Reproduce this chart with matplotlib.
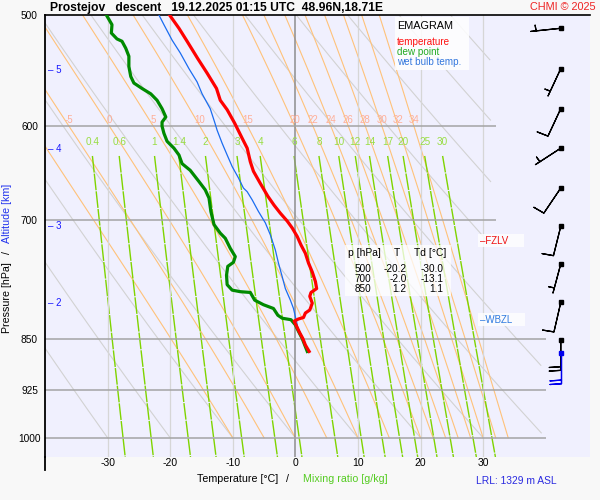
import numpy as np
import matplotlib.pyplot as plt
from matplotlib.lines import Line2D
from matplotlib.patches import Rectangle

plt.rcParams['font.family'] = ['Liberation Sans', 'DejaVu Sans']
plt.rcParams['axes.unicode_minus'] = False

# sounding (p in hPa, T in degC)
temp_p = [500, 511, 522, 537, 550, 564, 575, 584, 597, 612, 622, 636, 646, 659, 673, 683, 692,
          701, 709, 719, 729, 739, 751, 762, 774, 783, 788, 793, 802, 811, 815, 821, 823, 826,
          833, 842, 850, 859, 868]
temp_t = [-20.1, -18.6, -17.3, -15.6, -14.1, -12.6, -12.0, -10.9, -9.7, -8.5, -7.7, -7.2, -6.7,
          -5.6, -4.4, -3.4, -2.4, -1.3, -0.5, 0.3, 0.9, 1.6, 2.1, 2.7, 3.2, 3.4, 2.5, 2.3, 2.7,
          2.3, 1.6, 1.3, 0.5, -0.2, 0.2, 0.7, 1.2, 1.6, 2.2]

dew_p = [500, 508, 515, 520, 522, 528, 535, 544, 553, 559, 564, 569, 575, 583, 591, 596, 600,
         607, 615, 622, 629, 638, 645, 657, 666, 675, 690, 705, 715, 721, 733, 743, 750, 755,
         766, 778, 785, 787, 788, 798, 804, 809, 818, 822, 824, 831, 840, 850, 859, 868]
dew_t = [-30.2, -29.3, -29.4, -28.5, -27.7, -27.1, -26.6, -26.6, -26.3, -25.8, -24.5, -23.1,
         -22.1, -21.3, -20.7, -21.3, -21.3, -21.0, -20.5, -19.4, -18.6, -18.1, -16.8, -15.4,
         -14.4, -13.8, -13.5, -13.0, -12.0, -11.2, -10.4, -9.6, -9.9, -10.8, -11.0, -10.9,
         -10.1, -8.8, -7.2, -6.5, -5.1, -3.5, -2.8, -2.1, -0.7, 0.0, 0.5, 1.1, 1.5, 1.9]

wb_p = [500, 508, 521, 532, 546, 558, 569, 583, 596, 604, 617, 629, 641, 653, 664, 668, 677,
        690, 703, 717, 735, 751, 768, 783, 798, 809, 820, 827, 840, 850, 859, 868]
wb_t = [-21.8, -21.0, -19.7, -18.4, -17.0, -15.7, -14.9, -13.6, -12.9, -12.5, -11.7, -10.9,
        -10.1, -9.1, -8.3, -7.7, -6.9, -5.9, -4.8, -4.0, -3.2, -2.7, -2.1, -1.6, -0.8, -0.3,
        0.0, 0.2, 0.5, 1.1, 1.5, 2.0]

# summary table
table_p = [500, 700, 850]
table_t = [-20.2, -2.0, 1.2]
table_td = [-30.0, -13.1, 1.1]

# wind profile (direction deg, speed kt)
wind_p = [511, 546, 583, 622, 664, 707, 752, 801, 852]
wind_dir = [264, 205, 205, 237, 214, 194, 195, 193, 180]
wind_spd = [5, 5, 10, 5, 10, 10, 5, 10, 20]
sfc_p, sfc_dir, sfc_spd = 870, 180, 20

alt_km = [2, 3, 4, 5]
alt_p = [802, 707, 623, 547]

fzlv_p = 724
wbzl_p = 824
lrl_m = 1329

# diagram background lines
isobars = [600, 700, 850, 925, 1000]
isotherms = [-30, -20, -10, 0, 10, 20, 30]
theta_lines = [-30, -20, -10, 0, 10, 20, 30, 40, 50, 60, 70, 80, 90]
thetaw_lines = [-10, -5, 0, 5, 10, 15, 20, 22, 24, 26, 28, 30, 32, 34]
mix_lines = [0.4, 0.6, 1, 1.4, 2, 3, 4, 6, 8, 10, 12, 14, 17, 20, 25, 30]

RD, CP, LV, EPS = 287.04, 1005.7, 2.501e6, 0.622


def sat_vap(tk):
    return 6.112 * np.exp(17.67 * (tk - 273.15) / (tk - 29.65))


def moist_dtdp(tk, p):
    es = sat_vap(tk)
    rs = EPS * es / (p - es)
    return (RD * tk + LV * rs) / (CP + LV ** 2 * rs * EPS / (RD * tk ** 2)) / p


def moist_adiabats(tw_c, p):
    t = np.asarray(tw_c, float) + 273.15
    out = [t]
    for p0, p1 in zip(p[:-1], p[1:]):
        dp = p1 - p0
        k1 = moist_dtdp(t, p0)
        k2 = moist_dtdp(t + 0.5 * dp * k1, p0 + 0.5 * dp)
        k3 = moist_dtdp(t + 0.5 * dp * k2, p0 + 0.5 * dp)
        k4 = moist_dtdp(t + dp * k3, p1)
        t = t + dp * (k1 + 2 * k2 + 2 * k3 + k4) / 6
        out.append(t)
    return np.array(out) - 273.15


def mixing_temp(w, p):
    e = w * p / (1000 * EPS + w)
    a = np.log(e / 6.112)
    return 243.5 * a / (17.67 - a)


W, H = 600, 500
fig = plt.figure(figsize=(6, 5), dpi=100, facecolor='#f8f8f8')


def fx(x):
    return x / W


def fy(y):
    return 1 - y / H


ax = fig.add_axes([fx(45), fy(457), 545 / W, 442 / H])
ax.set_facecolor('#f0f0fe')
ax.set_yscale('log')
ax.set_xlim(-40, 47.07)
ax.set_ylim(1032, 500)

pgrid = np.linspace(1000, 500, 501)

# dry adiabats
tmax = np.where(pgrid < 800, 31.2, 39.3)
for th in theta_lines:
    t = (th + 273.15) * (pgrid / 1000) ** 0.2857 - 273.15
    t = np.where(t <= tmax, t, np.nan)
    ax.plot(t, pgrid, color='#d2d2d2', lw=0.8, zorder=1)

# saturated adiabats
ma = moist_adiabats(thetaw_lines, pgrid)
for i, tw in enumerate(thetaw_lines):
    ax.plot(ma[:, i], pgrid, color='#ffc27a', lw=0.8, zorder=1)
    t600 = np.interp(600, pgrid[::-1], ma[::-1, i])
    if t600 > -38:
        ax.text(t600, 594, '%g' % tw, color='#ffaf98', fontsize=7, ha='center',
                va='center', zorder=3)

# mixing ratio lines
pm = np.linspace(630, 1032, 120)
for w in mix_lines:
    ax.plot(mixing_temp(w, pm), pm, color='#7fd400', lw=1.0, dashes=(12, 0.8), zorder=1.2)
    ax.text(mixing_temp(w, 630), 616, '%g' % w, color='#99dd44', fontsize=7.2,
            ha='center', va='center', zorder=3)

for t in isotherms:
    if t == 0:
        ax.axvline(t, color='#8e8e8e', lw=1.1, zorder=1.5)
    else:
        ax.axvline(t, color='#d6d6d6', lw=0.9, zorder=1.5)

for p in isobars:
    ax.hlines(p, -40, 32 if p < 800 else 40, color='#a4a4a4', lw=1.1, zorder=2)

# profiles
ax.plot(wb_t, wb_p, color='#1a6cf0', lw=0.9, zorder=4)
ax.plot(dew_t, dew_p, color='#008a00', lw=2.3, zorder=5)
ax.plot(temp_t, temp_p, color='#ff0000', lw=2.3, zorder=6)

# wind barbs
barb_sizes = dict(width=0.05, spacing=0.12, height=0.38)
spd = np.array(wind_spd, float)
wd = np.radians(wind_dir)
bx = np.full(len(wind_p), 42.4)
ax.barbs(bx, wind_p, -spd * np.sin(wd), -spd * np.cos(wd), length=6.6, pivot='tip',
         sizes=barb_sizes, color='black', linewidth=0.9, zorder=7, clip_on=False)
ax.plot(bx, wind_p, 's', color='black', ms=2.5, zorder=8, clip_on=False)
sd = np.radians(sfc_dir)
ax.barbs([42.4], [sfc_p], [-sfc_spd * np.sin(sd)], [-sfc_spd * np.cos(sd)], length=6.6,
         pivot='tip', sizes=barb_sizes, color='#0000ee', linewidth=0.9, zorder=7,
         clip_on=False)
ax.plot([42.4], [sfc_p], 's', color='#0000ee', ms=2.5, zorder=8, clip_on=False)

# altitude marks
ytr = ax.get_yaxis_transform()
for km, p in zip(alt_km, alt_p):
    ax.text(0.0055, p, '\u2013 %d' % km, transform=ytr, color='#1a1aff', fontsize=7,
            ha='left', va='center', zorder=8)

ax.text((480 - 45) / 545, fzlv_p, '\u2013FZLV     ', transform=ytr, color='#ee1111',
        fontsize=7, ha='left', va='center', zorder=8,
        bbox=dict(fc='white', ec='none', alpha=0.8, pad=1.2))
ax.text((480 - 45) / 545, wbzl_p, '\u2013WBZL    ', transform=ytr, color='#2f7be0',
        fontsize=7, ha='left', va='center', zorder=8,
        bbox=dict(fc='white', ec='none', alpha=0.8, pad=1.2))

# spines and ticks
for side in ['right', 'bottom']:
    ax.spines[side].set_visible(False)
ax.spines['left'].set_linewidth(1.3)
ax.spines['top'].set_linewidth(1.2)
fig.add_artist(Line2D([fx(45), fx(45)], [fy(457), fy(470)], color='black', lw=1.3,
                      transform=fig.transFigure))

ax.minorticks_off()
ax.set_yticks([500] + isobars)
ax.set_yticklabels([str(p) for p in [500] + isobars])
ax.set_xticks(isotherms)
ax.set_xticklabels(['%d' % t for t in isotherms])
ax.tick_params(axis='y', length=0, pad=11.2, labelsize=7.3)
ax.tick_params(axis='x', length=0, pad=1.0, labelsize=7.5)
for lab in ax.get_yticklabels():
    lab.set_horizontalalignment('center')

# legend box
fig.add_artist(Rectangle((fx(395), fy(70)), 74 / W, 53 / H, transform=fig.transFigure,
                         fc='white', ec='none', alpha=0.85, zorder=2))
fig.text(fx(397), fy(26), 'EMAGRAM', fontsize=7.8, va='center', zorder=3)
fig.text(fx(397), fy(42), 'temperature', fontsize=7.1, color='#ff1010', va='center', zorder=3)
fig.text(fx(397), fy(52), 'dew point', fontsize=7.1, color='#22aa22', va='center', zorder=3)
fig.text(fx(397), fy(62), 'wet bulb temp.', fontsize=7.1, color='#3377dd', va='center',
         zorder=3)

# table
fig.add_artist(Rectangle((fx(345), fy(296)), 106 / W, 51 / H, transform=fig.transFigure,
                         fc='white', ec='none', alpha=0.75, zorder=2))
fig.text(fx(348), fy(253.5), 'p [hPa]', fontsize=7.4, va='center', zorder=3)
fig.text(fx(397), fy(253.5), 'T', fontsize=7.4, va='center', ha='center', zorder=3)
fig.text(fx(413.5), fy(253.5), 'Td [\u00b0C]', fontsize=7.4, va='center', zorder=3)
for k, (p, t, td) in enumerate(zip(table_p, table_t, table_td)):
    yy = 268.5 + k * 10.1
    fig.text(fx(371.7), fy(yy), '%d' % p, fontsize=7.2, va='center', ha='right', zorder=3)
    fig.text(fx(406.7), fy(yy), '%.1f' % t, fontsize=7.2, va='center', ha='right', zorder=3)
    fig.text(fx(443.3), fy(yy), '%.1f' % td, fontsize=7.2, va='center', ha='right', zorder=3)

# titles and axis labels
fig.text(fx(50), fy(7.5), 'Prostejov   descent   19.12.2025 01:15 UTC  48.96N,18.71E',
         fontsize=8.7, fontweight='bold', va='center')
fig.text(fx(596), fy(7.5), 'CHMI \u00a9 2025', fontsize=7.8, color='#ee2222', va='center',
         ha='right')

fig.text(fx(7.5), fy(333), 'Pressure [hPa]', rotation=90, ha='center', va='bottom',
         fontsize=7.7)
fig.text(fx(7.5), fy(253), '/', rotation=90, ha='center', va='center', fontsize=7.7)
fig.text(fx(7.5), fy(243), 'Altitude [km]', rotation=90, ha='center', va='bottom',
         fontsize=7.7, color='#2233ee')

fig.text(fx(197), fy(479.5), 'Temperature [\u00b0C]', fontsize=7.7, va='center')
fig.text(fx(287), fy(479.5), '/', fontsize=7.7, va='center', ha='center')
fig.text(fx(302.7), fy(479.5), 'Mixing ratio [g/kg]', fontsize=7.7, va='center',
         color='#55cc22')
fig.text(fx(476), fy(481.5), 'LRL: %d m ASL' % lrl_m, fontsize=7.4, va='center',
         color='#2a2ae0')

fig.savefig('out.png', dpi=100, facecolor=fig.get_facecolor())
